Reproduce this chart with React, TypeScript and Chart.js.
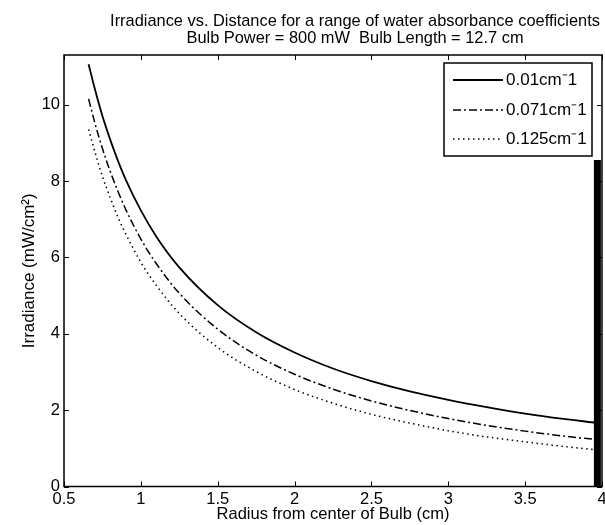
import React, { useEffect, useRef } from "react";
import { Chart, registerables } from "chart.js";

Chart.register(...registerables);

const titleLines = [
  "Irradiance vs. Distance for a range of water absorbance coefficients",
  "Bulb Power = 800 mW  Bulb Length = 12.7 cm",
];
const xLabel = "Radius from center of Bulb (cm)";
const yLabel = "Irradiance (mW/cm\u00B2)";
const seriesLabels = ["0.01cm\u207B1", "0.071cm\u207B1", "0.125cm\u207B1"];

const radius = [0.66, 0.7, 0.75, 0.8, 0.85, 0.9, 1.0, 1.1, 1.25, 1.5, 1.75, 2.0, 2.25, 2.5, 2.75, 3.0, 3.25, 3.5, 3.75, 3.96];
const irr001 = [11.06, 10.42, 9.7, 9.09, 8.54, 8.05, 7.23, 6.55, 5.74, 4.75, 4.04, 3.51, 3.09, 2.76, 2.49, 2.27, 2.08, 1.91, 1.77, 1.67];
const irr0071 = [10.15, 9.53, 8.85, 8.26, 7.74, 7.27, 6.48, 5.84, 5.06, 4.12, 3.44, 2.94, 2.55, 2.24, 1.99, 1.78, 1.6, 1.45, 1.32, 1.23];
const irr0125 = [9.35, 8.78, 8.12, 7.57, 7.06, 6.63, 5.87, 5.27, 4.53, 3.64, 3.01, 2.54, 2.18, 1.89, 1.66, 1.46, 1.3, 1.17, 1.05, 0.96];
const bulbEdgeX = [3.97, 3.97];
const bulbEdgeY = [0, 8.55];

const FONT = "'Liberation Sans', Arial, sans-serif";

const toPts = (xs: number[], ys: number[]) => xs.map((x, i) => ({ x, y: ys[i] }));

const framePlugin = {
  id: "frameLegendTitle",
  afterDatasetsDraw(chart: any) {
    const { ctx, chartArea } = chart;
    const { left, right, top, bottom } = chartArea;
    const xs = chart.scales.x;
    const ys = chart.scales.y;
    ctx.save();
    ctx.setLineDash([]);
    ctx.strokeStyle = "#000";
    ctx.lineWidth = 1.5;
    ctx.strokeRect(left, top, right - left, bottom - top);
    const tl = 5;
    ctx.lineWidth = 1;
    ctx.beginPath();
    xs.ticks.forEach((t: any) => {
      const px = Math.round(xs.getPixelForValue(t.value)) + 0.5;
      ctx.moveTo(px, bottom);
      ctx.lineTo(px, bottom - tl);
      ctx.moveTo(px, top);
      ctx.lineTo(px, top + tl);
    });
    ys.ticks.forEach((t: any) => {
      const py = Math.round(ys.getPixelForValue(t.value)) + 0.5;
      ctx.moveTo(left, py);
      ctx.lineTo(left + tl, py);
      ctx.moveTo(right, py);
      ctx.lineTo(right - tl, py);
    });
    ctx.stroke();

    // legend
    const bx = 444, by = 63, bw = 148, bh = 93;
    ctx.fillStyle = "#fff";
    ctx.fillRect(bx, by, bw, bh);
    ctx.lineWidth = 1.5;
    ctx.strokeRect(bx, by, bw, bh);
    const rowY = [80, 110, 139];
    ctx.font = `17px ${FONT}`;
    ctx.textBaseline = "middle";
    ctx.textAlign = "left";
    chart.data.datasets.slice(0, 3).forEach((ds: any, i: number) => {
      ctx.strokeStyle = "#000";
      ctx.lineWidth = ds.borderWidth;
      ctx.setLineDash(ds.borderDash || []);
      ctx.beginPath();
      ctx.moveTo(453, rowY[i]);
      ctx.lineTo(503, rowY[i]);
      ctx.stroke();
      ctx.fillStyle = "#000";
      ctx.fillText(ds.label, 506, rowY[i]);
    });
    ctx.setLineDash([]);

    // title
    ctx.font = `16.4px ${FONT}`;
    ctx.textAlign = "center";
    ctx.textBaseline = "alphabetic";
    const cx = 355;
    ctx.fillText(titleLines[0], cx, 26);
    ctx.fillText(titleLines[1], cx, 43);
    ctx.restore();
  },
};

export default function App() {
  const ref = useRef<HTMLCanvasElement>(null);
  useEffect(() => {
    if (!ref.current) return;
    Chart.defaults.font.family = FONT;
    Chart.defaults.color = "#000";
    const chart = new Chart(ref.current, {
      type: "line",
      data: {
        datasets: [
          {
            label: seriesLabels[0],
            data: toPts(radius, irr001),
            borderColor: "#000",
            borderWidth: 1.8,
            pointRadius: 0,
            cubicInterpolationMode: "monotone",
          },
          {
            label: seriesLabels[1],
            data: toPts(radius, irr0071),
            borderColor: "#000",
            borderWidth: 1.5,
            borderDash: [8, 3, 2, 3],
            pointRadius: 0,
            cubicInterpolationMode: "monotone",
          },
          {
            label: seriesLabels[2],
            data: toPts(radius, irr0125),
            borderColor: "#000",
            borderWidth: 1.5,
            borderDash: [1.5, 3.5],
            pointRadius: 0,
            cubicInterpolationMode: "monotone",
          },
          {
            label: "bulb",
            data: toPts(bulbEdgeX, bulbEdgeY),
            borderColor: "#000",
            borderWidth: 7,
            borderCapStyle: "butt",
            pointRadius: 0,
          },
        ],
      },
      options: {
        animation: false,
        responsive: false,
        devicePixelRatio: 1,
        layout: { padding: { top: 55, right: 3, left: 0, bottom: 0 } },
        plugins: { legend: { display: false }, tooltip: { enabled: false }, title: { display: false } },
        scales: {
          x: {
            type: "linear",
            min: 0.5,
            max: 4,
            grid: { display: false, drawTicks: false },
            border: { display: false },
            ticks: {
              stepSize: 0.5,
              font: { size: 16.5 },
              color: "#000",
              padding: 3,
              maxRotation: 0,
              includeBounds: false,
              callback: (v: any) => String(Number(v)),
            },
            title: { display: true, text: xLabel, font: { size: 16.5 }, color: "#000", padding: { top: 0, bottom: 1 } },
            afterFit: (s: any) => {
              s.height = 38.5;
              s.paddingLeft = 0;
              s.paddingRight = 0;
            },
          },
          y: {
            type: "linear",
            min: 0,
            max: 11.3,
            grid: { display: false, drawTicks: false },
            border: { display: false },
            ticks: { stepSize: 2, font: { size: 16.5 }, color: "#000", padding: 4, includeBounds: false },
            title: { display: true, text: yLabel, font: { size: 17 }, color: "#000", padding: { top: 19, bottom: 0 } },
            afterFit: (s: any) => {
              s.width = 64;
              s.paddingTop = 0;
              s.paddingBottom = 0;
            },
          },
        },
      },
      plugins: [framePlugin],
    } as any);
    return () => chart.destroy();
  }, []);
  return (
    <div style={{ position: "fixed", left: 0, top: 0, width: 605, height: 525, background: "#fff" }}>
      <canvas ref={ref} width={605} height={525} />
    </div>
  );
}
